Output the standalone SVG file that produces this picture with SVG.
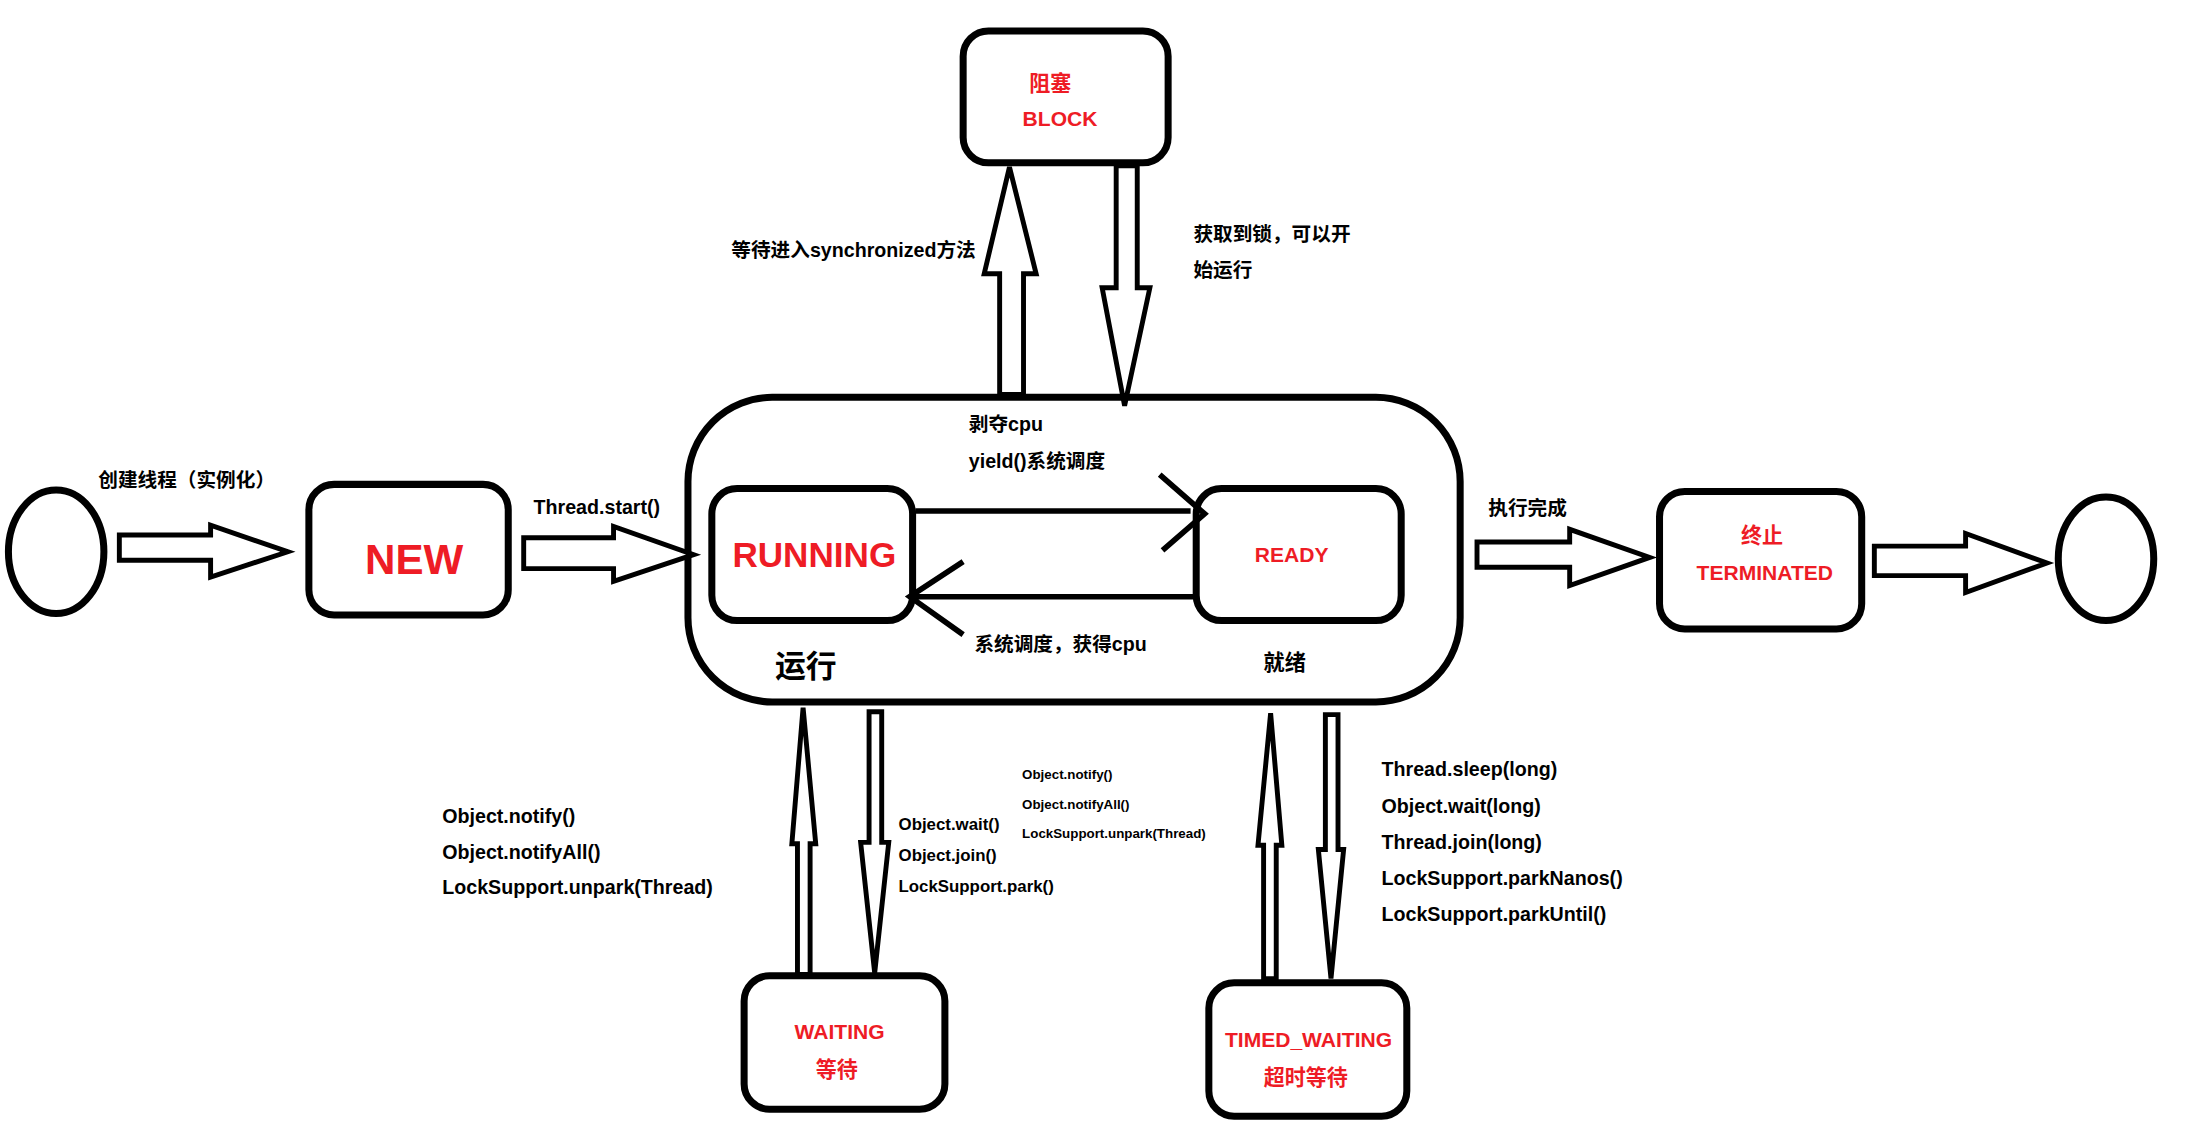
<svg xmlns="http://www.w3.org/2000/svg" width="2201" height="1135" viewBox="0 0 2201 1135">
<style>
.b{fill:#fff;stroke:#000;stroke-width:5}
.a{fill:#fff;stroke:#000;stroke-width:3.5;stroke-linejoin:miter}
.l{fill:none;stroke:#000;stroke-width:4}
text{font-family:"Liberation Sans","Noto Sans CJK SC",sans-serif;font-weight:bold}
.r{fill:#ee1c25}
.k{fill:#000}
</style>
<rect width="2201" height="1135" fill="#fff"/>
<g transform="scale(1.404)">
<g id="outer"><rect class="b" x="490" y="283" width="550" height="217" rx="60"/>
<text class="k" x="552" y="482" font-size="22">运行</text>
<text class="k" x="900" y="477" font-size="15">就绪</text></g>
<g id="start"><ellipse class="b" cx="40" cy="393" rx="34" ry="44"/></g>
<g id="end"><ellipse class="b" cx="1500" cy="398" rx="34" ry="44"/></g>
<g id="new"><rect class="b" x="220" y="345" width="142" height="93" rx="18"/><text class="r" x="295" y="409" font-size="30" text-anchor="middle">NEW</text></g>
<g id="running"><rect class="b" x="507" y="348" width="143" height="94" rx="18"/><text class="r" x="580" y="404" font-size="25" text-anchor="middle">RUNNING</text></g>
<g id="ready"><rect class="b" x="852" y="348" width="146" height="94" rx="18"/><text class="r" x="920" y="400" font-size="15" text-anchor="middle">READY</text></g>
<g id="block"><rect class="b" x="686" y="22" width="146" height="94" rx="18"/><text class="r" x="748" y="65" font-size="15" text-anchor="middle">阻塞</text><text class="r" x="755" y="90" font-size="15" text-anchor="middle">BLOCK</text></g>
<g id="terminated"><rect class="b" x="1182" y="350" width="144" height="98" rx="18"/><text class="r" x="1255" y="387" font-size="15" text-anchor="middle">终止</text><text class="r" x="1257" y="413" font-size="15" text-anchor="middle">TERMINATED</text></g>
<g id="waiting"><rect class="b" x="530" y="695" width="143" height="95" rx="18"/><text class="r" x="598" y="740" font-size="15" text-anchor="middle">WAITING</text><text class="r" x="596" y="767" font-size="15" text-anchor="middle">等待</text></g>
<g id="timed"><rect class="b" x="861" y="700" width="141" height="95" rx="18"/><text class="r" x="932" y="746" font-size="15" text-anchor="middle">TIMED_WAITING</text><text class="r" x="930" y="773" font-size="15" text-anchor="middle">超时等待</text></g>
<g id="connectors">
<polygon class="a" points="85,381 150,381 150,374 205,393 150,411 150,399 85,399"/>
<polygon class="a" points="373,383 437,383 437,375 494,395 437,414 437,405 373,405"/>
<polygon class="a" points="1052,386 1118,386 1118,377 1175,397 1118,417 1118,404 1052,404"/>
<polygon class="a" points="1335,389 1400,389 1400,380 1458,401 1400,422 1400,410 1335,410"/>
<polygon class="a" points="719,119 738,195 729,195 729,281 712,281 712,195 701,195"/>
<polygon class="a" points="801,289 819,205 810,205 810,118 795,118 795,205 785,205"/>
<polygon class="a" points="572,504 581,601 577,601 577,694 568,694 568,601 564,601"/>
<polygon class="a" points="623,693 633,600 628,600 628,507 619,507 619,600 613,600"/>
<polygon class="a" points="905,508 913,602 909,602 909,697 900,697 900,602 896,602"/>
<polygon class="a" points="948,697 957,605 953,605 953,509 944,509 944,605 939,605"/>
<path class="l" d="M652,364 H848 M826,338 L858,366 L828,392"/>
<path class="l" d="M852,425 H650 M686,400 L648,425 L686,452"/>
</g>
<g id="labels" font-size="14">
<text class="k" x="70" y="347">创建线程（实例化）</text>
<text class="k" x="380" y="366">Thread.start()</text>
<text class="k" x="695" y="183" text-anchor="end">等待进入synchronized方法</text>
<text class="k" x="850" y="172">获取到锁，可以开</text>
<text class="k" x="850" y="197">始运行</text>
<text class="k" x="690" y="307">剥夺cpu</text>
<text class="k" x="690" y="333">yield()系统调度</text>
<text class="k" x="694" y="464">系统调度，获得cpu</text>
<text class="k" x="1060" y="367">执行完成</text>
<text class="k" x="315" y="586">Object.notify()</text>
<text class="k" x="315" y="612">Object.notifyAll()</text>
<text class="k" x="315" y="637">LockSupport.unpark(Thread)</text>
<text class="k" x="640" y="591" font-size="12">Object.wait()</text>
<text class="k" x="640" y="613" font-size="12">Object.join()</text>
<text class="k" x="640" y="635" font-size="12">LockSupport.park()</text>
<text class="k" x="728" y="555" font-size="9.5">Object.notify()</text>
<text class="k" x="728" y="576" font-size="9.5">Object.notifyAll()</text>
<text class="k" x="728" y="597" font-size="9.5">LockSupport.unpark(Thread)</text>
<text class="k" x="984" y="553">Thread.sleep(long)</text>
<text class="k" x="984" y="579">Object.wait(long)</text>
<text class="k" x="984" y="605">Thread.join(long)</text>
<text class="k" x="984" y="630">LockSupport.parkNanos()</text>
<text class="k" x="984" y="656">LockSupport.parkUntil()</text>
</g>
</g>
</svg>
